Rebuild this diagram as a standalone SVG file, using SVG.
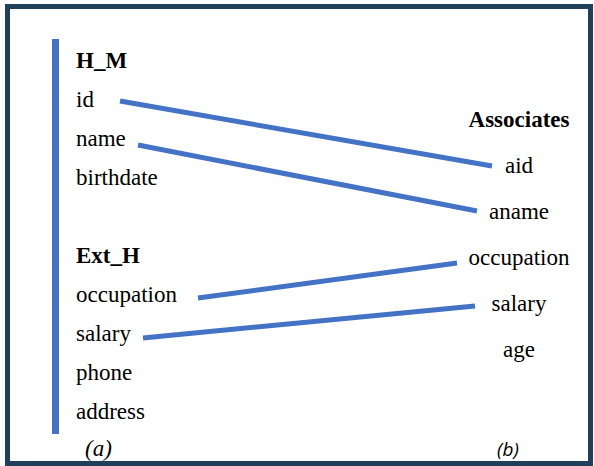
<svg xmlns="http://www.w3.org/2000/svg" width="594" height="466" viewBox="0 0 594 466">
<style>
.t{font-family:'Liberation Serif','Times New Roman',Times,'Nimbus Roman','DejaVu Serif',serif;font-size:23px;fill:#000}
.b{font-weight:bold}
.m{text-anchor:middle}
.c{stroke:#4472C4;stroke-width:5;fill:none}
</style>
<rect x="0" y="0" width="594" height="466" fill="#fff"/>
<rect x="7.5" y="6.5" width="583" height="457" fill="none" stroke="#1F3F5A" stroke-width="5"/>
<rect x="52" y="39" width="7" height="395" fill="#4472C4"/>
<g id="connectors">
<line class="c" x1="120" y1="101" x2="492" y2="166"/>
<line class="c" x1="138" y1="145" x2="477" y2="211"/>
<line class="c" x1="198" y1="298" x2="457" y2="263"/>
<line class="c" x1="143" y1="338" x2="475" y2="306"/>
</g>
<g id="H_M">
<text class="t b" x="76" y="68">H_M</text>
<text class="t" x="76" y="107">id</text>
<text class="t" x="76" y="146">name</text>
<text class="t" x="76" y="185">birthdate</text>
</g>
<g id="Ext_H">
<text class="t b" x="76" y="263">Ext_H</text>
<text class="t" x="76" y="302">occupation</text>
<text class="t" x="76" y="341">salary</text>
<text class="t" x="76" y="380">phone</text>
<text class="t" x="76" y="419">address</text>
</g>
<g id="Associates">
<text class="t b m" x="519" y="127">Associates</text>
<text class="t m" x="519" y="173">aid</text>
<text class="t m" x="519" y="219">aname</text>
<text class="t m" x="519" y="265">occupation</text>
<text class="t m" x="519" y="311">salary</text>
<text class="t m" x="519" y="357">age</text>
</g>
<text class="t" x="85" y="456" font-style="italic" font-size="21">(a)</text>
<text x="497" y="456" font-family="'Open Sans','Liberation Sans',sans-serif" font-style="italic" font-size="19">(b)</text>
</svg>
